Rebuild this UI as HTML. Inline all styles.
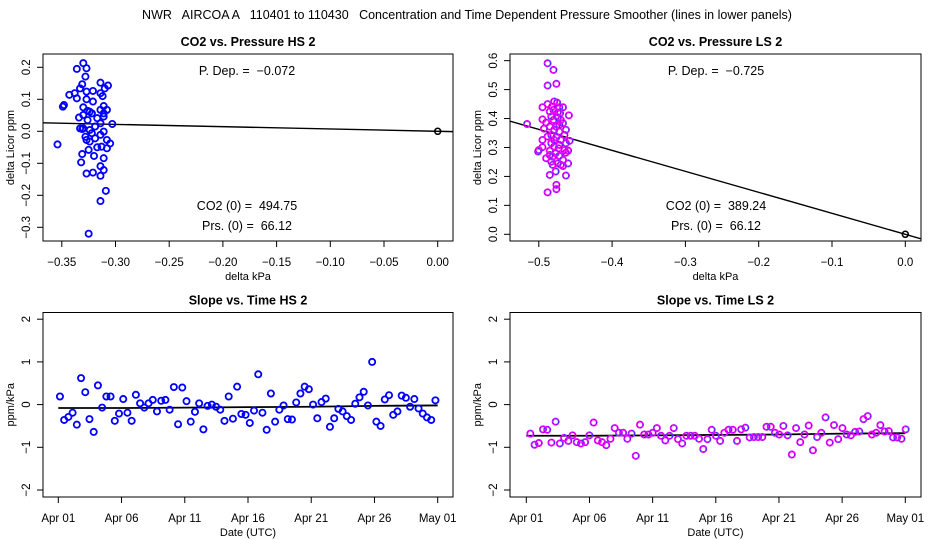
<!DOCTYPE html>
<html><head><meta charset="utf-8"><style>
body{margin:0;background:#fff;}
svg{display:block;font-family:"Liberation Sans",sans-serif;}
svg text{white-space:pre;}
</style></head><body>
<svg id="chart" width="936" height="540" viewBox="0 0 936 540" xmlns="http://www.w3.org/2000/svg" xml:space="preserve">
<text x="467" y="19" font-size="12.5" text-anchor="middle">NWR   AIRCOA A   110401 to 110430   Concentration and Time Dependent Pressure Smoother (lines in lower panels)</text>
</svg>
<script>
// ---- data ----
const hsPressX = [-0.330,-0.327,-0.336,-0.328,-0.331,-0.314,-0.307,-0.333,-0.338,-0.343,-0.327,-0.321,-0.314,-0.336,-0.327,-0.312,-0.330,-0.321,-0.349,-0.348,-0.324,-0.311,-0.314,-0.322,-0.330,-0.317,-0.311,-0.334,-0.303,-0.331,-0.324,-0.311,-0.328,-0.319,-0.314,-0.327,-0.324,-0.305,-0.313,-0.354,-0.317,-0.308,-0.325,-0.331,-0.320,-0.311,-0.332,-0.314,-0.311,-0.327,-0.321,-0.314,-0.309,-0.314,-0.325,-0.330,-0.326,-0.319,-0.314,-0.333,-0.308,-0.322,-0.326,-0.311,-0.308,-0.310];
const hsCO2Y = [0.213,0.197,0.195,0.171,0.147,0.152,0.143,0.134,0.119,0.114,0.124,0.126,0.119,0.103,0.100,0.110,0.075,0.093,0.077,0.082,0.061,0.079,0.067,0.056,0.051,0.041,0.056,0.043,0.023,0.007,0.004,-0.001,-0.017,-0.022,-0.011,-0.027,-0.032,-0.038,-0.048,-0.041,-0.050,-0.053,-0.058,-0.071,-0.077,-0.084,-0.097,-0.109,-0.121,-0.132,-0.129,-0.139,-0.186,-0.218,-0.320,0.009,0.035,0.015,0.025,0.009,-0.027,-0.006,0.064,0.046,0.067,0.134];
const hsPDep = -0.072;
const lsPressX = [-0.488,-0.480,-0.488,-0.476,-0.516,-0.459,-0.495,-0.488,-0.479,-0.475,-0.472,-0.495,-0.483,-0.474,-0.470,-0.485,-0.480,-0.474,-0.467,-0.485,-0.479,-0.472,-0.465,-0.458,-0.483,-0.488,-0.476,-0.463,-0.495,-0.500,-0.495,-0.485,-0.479,-0.472,-0.465,-0.460,-0.477,-0.481,-0.472,-0.483,-0.474,-0.467,-0.460,-0.481,-0.467,-0.485,-0.463,-0.476,-0.476,-0.488,-0.493,-0.490,-0.480,-0.472,-0.479,-0.470,-0.463,-0.483,-0.490,-0.471,-0.476,-0.467,-0.482,-0.473,-0.485,-0.463,-0.501,-0.477,-0.470];
const lsCO2Y = [0.591,0.568,0.514,0.520,0.381,0.411,0.439,0.450,0.459,0.455,0.439,0.397,0.407,0.404,0.395,0.424,0.430,0.421,0.384,0.372,0.361,0.355,0.343,0.323,0.343,0.338,0.335,0.315,0.326,0.291,0.301,0.289,0.303,0.309,0.291,0.289,0.280,0.268,0.271,0.251,0.245,0.257,0.245,0.240,0.236,0.205,0.203,0.171,0.156,0.145,0.365,0.386,0.395,0.378,0.326,0.326,0.361,0.315,0.263,0.418,0.372,0.439,0.441,0.297,0.274,0.282,0.286,0.217,0.240];
const lsPDep = -0.725;
const hsSlope = [0.19,-0.36,-0.29,-0.19,-0.47,0.62,0.29,-0.34,-0.64,0.45,-0.07,0.19,0.19,-0.38,-0.21,0.13,-0.19,-0.38,0.23,0.03,-0.07,0.03,0.11,-0.16,0.09,0.11,-0.12,0.41,-0.46,0.40,0.08,-0.40,-0.17,0.03,-0.58,-0.03,0.0,-0.05,-0.12,-0.38,0.19,-0.33,0.42,-0.22,-0.24,-0.43,-0.14,0.71,-0.19,-0.59,0.26,-0.40,-0.12,-0.02,-0.34,-0.35,0.05,0.26,0.42,0.36,0.0,-0.32,0.06,0.14,-0.52,-0.32,-0.10,-0.16,-0.27,-0.36,0.02,0.17,0.30,-0.02,1.0,-0.40,-0.50,0.12,0.22,-0.24,-0.16,0.21,0.16,-0.05,0.13,-0.09,-0.21,-0.30,-0.36,0.10];
const hsSmooth = [-0.08,-0.08,-0.07,-0.06,-0.05,-0.03,-0.02];
const lsSlope = [-0.68,-0.94,-0.90,-0.58,-0.59,-0.89,-0.40,-0.91,-0.78,-0.85,-0.72,-0.88,-0.91,-0.88,-0.72,-0.42,-0.84,-0.88,-0.95,-0.80,-0.55,-0.66,-0.66,-0.80,-0.68,-1.20,-0.47,-0.70,-0.70,-0.66,-0.55,-0.73,-0.84,-0.73,-0.55,-0.81,-0.91,-0.73,-0.73,-0.73,-0.80,-1.04,-0.81,-0.59,-0.73,-0.85,-0.66,-0.59,-0.59,-0.85,-0.58,-0.54,-0.77,-0.76,-0.76,-0.76,-0.52,-0.52,-0.66,-0.70,-0.50,-0.72,-1.17,-0.55,-0.88,-0.70,-0.49,-1.07,-0.76,-0.66,-0.30,-0.89,-0.48,-0.81,-0.55,-0.70,-0.72,-0.64,-0.63,-0.34,-0.27,-0.70,-0.66,-0.48,-0.63,-0.62,-0.77,-0.77,-0.80,-0.58];
const lsSmooth = [-0.73,-0.73,-0.72,-0.71,-0.70,-0.68,-0.67];
const smoothDays = [0,5,10,15,20,25,30];
const hsStartDay = 0.13, hsEndDay = 29.82;
const lsStartDay = 0.32, lsEndDay = 30.03;
const hsXTicks = [-0.35,-0.30,-0.25,-0.20,-0.15,-0.10,-0.05,0.00];
const hsYTicks = [-0.3,-0.2,-0.1,0.0,0.1,0.2];
const lsXTicks = [-0.5,-0.4,-0.3,-0.2,-0.1,0.0];
const lsYTicks = [0.0,0.1,0.2,0.3,0.4,0.5,0.6];
const slopeYTicks = [-2,-1,0,1,2];
const dateTicks = [0,5,10,15,20,25,30];
const dateLabels = ["Apr 01","Apr 06","Apr 11","Apr 16","Apr 21","Apr 26","May 01"];

const svg = document.getElementById('chart');
const NS = 'http://www.w3.org/2000/svg';
function mk(tag, attrs, parent){
  const e = document.createElementNS(NS, tag);
  for (const k in attrs) e.setAttribute(k, attrs[k]);
  (parent||svg).appendChild(e);
  return e;
}
function fmt(v, d){ return v.toFixed(d).replace('-', '\u2212'); }

function panel(o){
  const g = mk('g', {});
  
  
  const sx = v => o.x0px + (v - o.x0v) * o.xs;
  const sy = v => o.y0px - (v - o.y0v) * o.ys;
  const box = mk('rect', {x:o.L, y:o.T, width:o.R-o.L, height:o.B-o.T, fill:'none', stroke:'#000', 'stroke-width':1}, g);
  
  
  const t = mk('text', {x:(o.L+o.R)/2, y:o.T-8, 'font-size':12.5, 'font-weight':'bold', 'text-anchor':'middle'}, g);
  t.textContent = o.title;
  
  
  o.xTicks.forEach((v,i) => {
    const x = sx(v);
    mk('line', {x1:x, x2:x, y1:o.B, y2:o.B+6, stroke:'#000'}, g);
    const tl = mk('text', {x:x, y:o.B+25, 'font-size':11.5, 'text-anchor':'middle'}, g);
    tl.textContent = o.xLab ? o.xLab[i] : fmt(v, o.xd);
    
    
  });
  o.yTicks.forEach(v => {
    const y = sy(v);
    mk('line', {x1:o.L-6, x2:o.L, y1:y, y2:y, stroke:'#000'}, g);
    const tx = o.L - 13;
    const tl = mk('text', {x:tx, y:y, 'font-size':11.5, 'text-anchor':'middle', transform:`rotate(-90 ${tx} ${y})`}, g);
    tl.textContent = fmt(v, o.yd);
    
    
  });
  const xt = mk('text', {x:(o.L+o.R)/2, y:o.B+39, 'font-size':11, 'text-anchor':'middle'}, g);
  xt.textContent = o.xTitle;
  
  
  const yx = o.L - 29, yy = (o.T+o.B)/2;
  const yt = mk('text', {x:yx, y:yy, 'font-size':11, 'text-anchor':'middle', transform:`rotate(-90 ${yx} ${yy})`}, g);
  yt.textContent = o.yTitle;
  
  
  return {g, sx, sy};
}
function clipFor(id, o){
  const cp = mk('clipPath', {id:id});
  mk('rect', {x:o.L, y:o.T, width:o.R-o.L, height:o.B-o.T}, cp);
}
function marker(g, x, y, purple, name){
  const c = mk('circle', {cx:x, cy:y, r:3.1, fill:'none', stroke: purple ? '#ff00ff' : '#0000ff', 'stroke-width':1.8}, g);
  
  
  if (purple) mk('circle', {cx:x, cy:y, r:3.1, fill:'none', stroke:'#3030ff', 'stroke-width':1, 'stroke-dasharray':'1.5 2'}, g);
}

// Top-left
const tlO = {name:'panel-co2-pressure-hs', L:43, R:453, T:54, B:241, x0px:437.7, x0v:0, xs:1074, y0px:131.3, y0v:0, ys:320,
  xTicks:hsXTicks, xd:2, yTicks:hsYTicks, yd:1, title:'CO2 vs. Pressure HS 2', xTitle:'delta kPa', yTitle:'delta Licor ppm'};
clipFor('c1', tlO);
const p1 = panel(tlO);
{
  const xa = (tlO.L - tlO.x0px)/tlO.xs, xb = (tlO.R - tlO.x0px)/tlO.xs;
  const l = mk('line', {x1:p1.sx(xa), y1:p1.sy(hsPDep*xa), x2:p1.sx(xb), y2:p1.sy(hsPDep*xb), stroke:'#000', 'stroke-width':1.4, 'clip-path':'url(#c1)'}, p1.g);
  
  
  hsPressX.forEach((v,i) => marker(p1.g, p1.sx(v), p1.sy(hsCO2Y[i]), false, 'hs-point'));
  const z = mk('circle', {cx:p1.sx(0), cy:p1.sy(0), r:3, fill:'none', stroke:'#000', 'stroke-width':1.5}, p1.g);
  
  
  [['P. Dep. =  '+fmt(hsPDep,3),75],['CO2 (0) =  494.75',210],['Prs. (0) =  66.12',230]].forEach(a=>{
    const t = mk('text', {x:247, y:a[1], 'font-size':12.5, 'text-anchor':'middle'}, p1.g);
    t.textContent = a[0];
    
    
  });
}
// Top-right
const trO = {name:'panel-co2-pressure-ls', L:510, R:921, T:54, B:241, x0px:905.3, x0v:0, xs:733, y0px:234.3, y0v:0, ys:289.4,
  xTicks:lsXTicks, xd:1, yTicks:lsYTicks, yd:1, title:'CO2 vs. Pressure LS 2', xTitle:'delta kPa', yTitle:'delta Licor ppm'};
clipFor('c2', trO);
const p2 = panel(trO);
{
  const xa = (trO.L - trO.x0px)/trO.xs, xb = (trO.R - trO.x0px)/trO.xs;
  const l = mk('line', {x1:p2.sx(xa), y1:p2.sy(lsPDep*xa), x2:p2.sx(xb), y2:p2.sy(lsPDep*xb), stroke:'#000', 'stroke-width':1.4, 'clip-path':'url(#c2)'}, p2.g);
  
  
  lsPressX.forEach((v,i) => marker(p2.g, p2.sx(v), p2.sy(lsCO2Y[i]), true, 'ls-point'));
  const z = mk('circle', {cx:p2.sx(0), cy:p2.sy(0), r:3, fill:'none', stroke:'#000', 'stroke-width':1.5}, p2.g);
  
  
  [['P. Dep. =  '+fmt(lsPDep,3),75],['CO2 (0) =  389.24',210],['Prs. (0) =  66.12',230]].forEach(a=>{
    const t = mk('text', {x:716, y:a[1], 'font-size':12.5, 'text-anchor':'middle'}, p2.g);
    t.textContent = a[0];
    
    
  });
}
// Bottom panels
function slopePanel(name, L, R, x0px, x1px, vals, startD, endD, smooth, purple, title){
  const o = {name, L, R, T:312.5, B:497, x0px, x0v:0, xs:(x1px-x0px)/30, y0px:404.6, y0v:0, ys:42.7,
    xTicks:dateTicks, xLab:dateLabels, yTicks:slopeYTicks, yd:0, title, xTitle:'Date (UTC)', yTitle:'ppm/kPa'};
  const p = panel(o);
  const step = (endD - startD)/(vals.length - 1);
  const pts = smoothDays.map((d,i)=>p.sx(d)+','+p.sy(smooth[i])).join(' ');
  const pl = mk('polyline', {points:pts, fill:'none', stroke:'#000', 'stroke-width':1.8}, p.g);
  
  
  vals.forEach((v,i) => marker(p.g, p.sx(startD + i*step), p.sy(v), purple, 'slope-point'));
}
slopePanel('panel-slope-time-hs', 43, 453, 58.3, 437.7, hsSlope, hsStartDay, hsEndDay, hsSmooth, false, 'Slope vs. Time HS 2');
slopePanel('panel-slope-time-ls', 510, 921, 526.3, 905.3, lsSlope, lsStartDay, lsEndDay, lsSmooth, true, 'Slope vs. Time LS 2');
</script>
</body></html>
